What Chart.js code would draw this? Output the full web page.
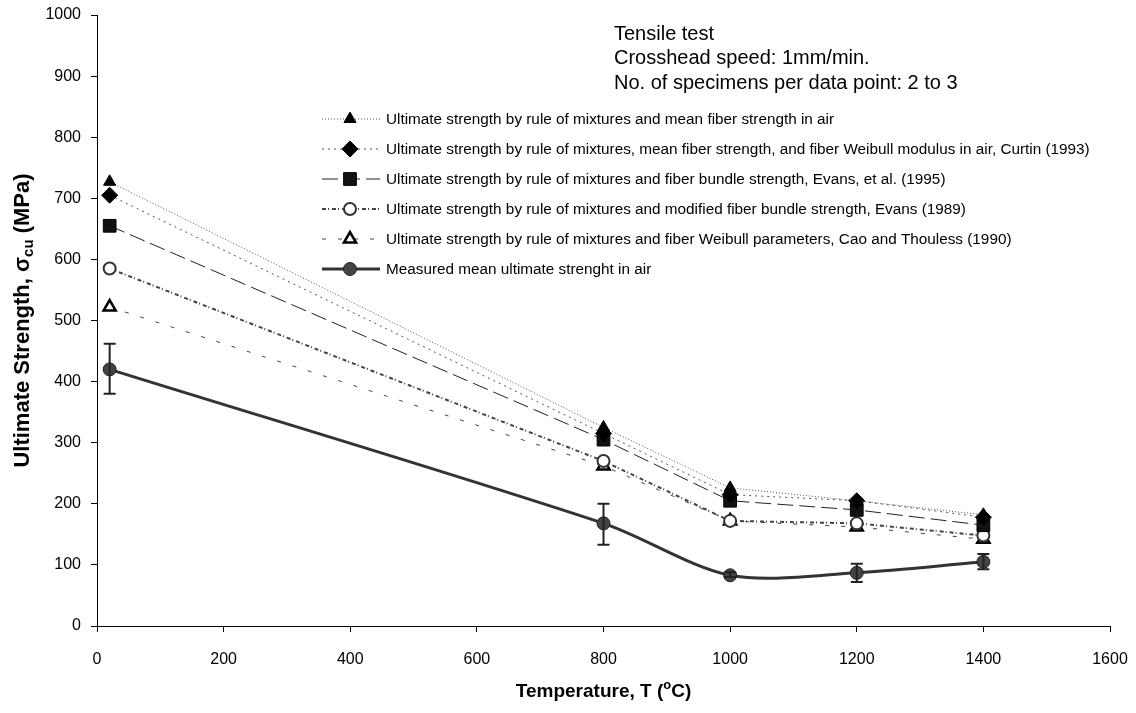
<!DOCTYPE html>
<html>
<head>
<meta charset="utf-8">
<script src="https://cdn.jsdelivr.net/npm/chart.js@4/dist/chart.umd.min.js"></script>
<style>
  html, body { margin: 0; padding: 0; background: #fff; }
  #wrap { width: 1136px; height: 713px; }
</style>
</head>
<body>
<div id="wrap"><canvas id="chart" width="1136" height="713"></canvas></div>
<script>
// temperatures (deg C)
const temps = [20, 800, 1000, 1200, 1400];

// ultimate strength (MPa) per model / measurement
const meanFiber = [727, 325, 226, 205, 182];
const curtin = [705, 315, 215, 205, 178];
const evansBundle = [655, 305, 205, 190, 165];
const evansModified = [585, 270, 172, 168, 148];
const caoThouless = [522, 262, 172, 162, 142];
const measured = [420, 168, 83, 87, 105];

// error bars on measured values
const measuredLow = [380, 133, 80, 72, 93];
const measuredHigh = [462, 200, 88, 102, 118];

const seriesLabels = [
  'Ultimate strength by rule of mixtures and mean fiber strength in air',
  'Ultimate strength by rule of mixtures, mean fiber strength, and fiber Weibull modulus in air, Curtin (1993)',
  'Ultimate strength by rule of mixtures and fiber bundle strength, Evans, et al. (1995)',
  'Ultimate strength by rule of mixtures and modified fiber bundle strength, Evans (1989)',
  'Ultimate strength by rule of mixtures and fiber Weibull parameters, Cao and Thouless (1990)',
  'Measured mean ultimate strenght in air'
];

const noteLines = [
  'Tensile test',
  'Crosshead speed: 1mm/min.',
  'No. of specimens per data point: 2 to 3'
];

const FONT = '"Liberation Sans", Arial, Helvetica, sans-serif';

function pts(values) {
  return temps.map((t, i) => ({ x: t, y: values[i] }));
}

// draws the legend block inside the plot, like the original
const sideLegend = {
  id: 'sideLegend',
  afterDraw(chart) {
    const ctx = chart.ctx;
    chart.data.datasets.forEach((ds, i) => {
      const y = 119 + i * 30;
      ctx.save();
      ctx.strokeStyle = ds.borderColor;
      ctx.lineWidth = ds.borderWidth;
      ctx.setLineDash(ds.borderDash || []);
      ctx.beginPath();
      ctx.moveTo(322, y);
      ctx.lineTo(380, y);
      ctx.stroke();
      ctx.setLineDash([]);
      ctx.fillStyle = ds.pointBackgroundColor;
      ctx.strokeStyle = ds.pointBorderColor;
      ctx.lineWidth = ds.pointBorderWidth;
      Chart.helpers.drawPoint(ctx, {
        pointStyle: ds.pointStyle,
        radius: ds.pointRadius,
        rotation: 0,
        borderWidth: ds.pointBorderWidth
      }, 350, y);
      ctx.fillStyle = '#000';
      ctx.font = '15.3px ' + FONT;
      ctx.textBaseline = 'middle';
      ctx.fillText(ds.label, 386, y + 1);
      ctx.restore();
    });

    // test conditions note
    ctx.save();
    ctx.fillStyle = '#000';
    ctx.font = '20px ' + FONT;
    ctx.textBaseline = 'middle';
    noteLines.forEach((t, i) => ctx.fillText(t, 614, 34 + i * 24.5));
    ctx.restore();
  }
};

// error bars on the measured series
const errorBars = {
  id: 'errorBars',
  afterDatasetsDraw(chart) {
    const ctx = chart.ctx;
    const xs = chart.scales.x, ys = chart.scales.y;
    ctx.save();
    ctx.strokeStyle = '#222';
    ctx.lineWidth = 2;
    temps.forEach((t, i) => {
      const x = xs.getPixelForValue(t);
      const y1 = ys.getPixelForValue(measuredLow[i]);
      const y2 = ys.getPixelForValue(measuredHigh[i]);
      ctx.beginPath();
      ctx.moveTo(x, y1); ctx.lineTo(x, y2);
      ctx.moveTo(x - 6, y1); ctx.lineTo(x + 6, y1);
      ctx.moveTo(x - 6, y2); ctx.lineTo(x + 6, y2);
      ctx.stroke();
    });
    ctx.restore();
  }
};

// axis titles with sub/superscripts
const axisTitles = {
  id: 'axisTitles',
  afterDraw(chart) {
    const ctx = chart.ctx;
    const area = chart.chartArea;
    ctx.save();
    ctx.fillStyle = '#000';
    ctx.textBaseline = 'alphabetic';

    // x title: Temperature, T (°C)
    let big = 'bold 19px ' + FONT, small = 'bold 13px ' + FONT;
    const xa = 'Temperature, T (', xs = 'o', xb = 'C)';
    ctx.font = big; const wa = ctx.measureText(xa).width, wb = ctx.measureText(xb).width;
    ctx.font = small; const wo = ctx.measureText(xs).width;
    const x0 = (area.left + area.right) / 2 - (wa + wo + wb) / 2;
    const yb = 697;
    ctx.font = big; ctx.fillText(xa, x0, yb);
    ctx.font = small; ctx.fillText(xs, x0 + wa, yb - 8);
    ctx.font = big; ctx.fillText(xb, x0 + wa + wo, yb);

    // y title: Ultimate Strength, σcu (MPa)
    big = 'bold 22px ' + FONT; small = 'bold 15px ' + FONT;
    const ya = 'Ultimate Strength, σ', ysub = 'cu', yc = ' (MPa)';
    ctx.font = big; const va = ctx.measureText(ya).width, vc = ctx.measureText(yc).width;
    ctx.font = small; const vs = ctx.measureText(ysub).width;
    ctx.translate(29, (area.top + area.bottom) / 2);
    ctx.rotate(-Math.PI / 2);
    const s0 = -(va + vs + vc) / 2;
    ctx.font = big; ctx.fillText(ya, s0, 0);
    ctx.font = small; ctx.fillText(ysub, s0 + va, 4);
    ctx.font = big; ctx.fillText(yc, s0 + va + vs, 0);
    ctx.restore();
  }
};

const datasets = [
  {
    label: seriesLabels[0], data: pts(meanFiber),
    borderColor: '#555', borderWidth: 1, borderDash: [1, 2],
    pointStyle: 'triangle', pointRadius: 7,
    pointBackgroundColor: '#000', pointBorderColor: '#000', pointBorderWidth: 1
  },
  {
    label: seriesLabels[1], data: pts(curtin),
    borderColor: '#555', borderWidth: 1, borderDash: [2, 4],
    pointStyle: 'rectRot', pointRadius: 8,
    pointBackgroundColor: '#000', pointBorderColor: '#000', pointBorderWidth: 1
  },
  {
    label: seriesLabels[2], data: pts(evansBundle),
    borderColor: '#222', borderWidth: 1, borderDash: [16, 6],
    pointStyle: 'rect', pointRadius: 9,
    pointBackgroundColor: '#111', pointBorderColor: '#000', pointBorderWidth: 1
  },
  {
    label: seriesLabels[3], data: pts(evansModified),
    borderColor: '#444', borderWidth: 2, borderDash: [4, 2, 1, 3],
    pointStyle: 'circle', pointRadius: 6,
    pointBackgroundColor: '#fff', pointBorderColor: '#333', pointBorderWidth: 2
  },
  {
    label: seriesLabels[4], data: pts(caoThouless),
    borderColor: '#444', borderWidth: 1, borderDash: [4, 12],
    pointStyle: 'triangle', pointRadius: 7,
    pointBackgroundColor: '#fff', pointBorderColor: '#000', pointBorderWidth: 2.5
  },
  {
    label: seriesLabels[5], data: pts(measured),
    borderColor: '#333', borderWidth: 3, tension: 0.3,
    pointStyle: 'circle', pointRadius: 6.5,
    pointBackgroundColor: '#444', pointBorderColor: '#222', pointBorderWidth: 1
  }
];

new Chart(document.getElementById('chart'), {
  type: 'line',
  data: { datasets },
  plugins: [errorBars, sideLegend, axisTitles],
  options: {
    responsive: false,
    animation: false,
    layout: { padding: { left: 0, right: 26, top: 15, bottom: 0 } },
    plugins: {
      legend: { display: false },
      tooltip: { enabled: false }
    },
    scales: {
      x: {
        type: 'linear', min: 0, max: 1600,
        afterFit(scale) {
          scale.height = 87;
          scale.paddingRight = 0;
          scale.paddingLeft = 0;
        },
        ticks: {
          stepSize: 200, color: '#000', font: { family: FONT, size: 16 }, padding: 18, maxRotation: 0,
          callback: (v) => String(v)
        },
        grid: { drawOnChartArea: false, color: '#000', tickLength: 6 },
        border: { color: '#000', width: 1 }
      },
      y: {
        min: 0, max: 1000,
        afterFit(scale) {
          scale.width = 97;
          scale.paddingTop = 0;
          scale.paddingBottom = 0;
        },
        ticks: {
          stepSize: 100, color: '#000', font: { family: FONT, size: 16 }, padding: 10,
          callback: (v) => String(v)
        },
        grid: { drawOnChartArea: false, color: '#000', tickLength: 6 },
        border: { color: '#000', width: 1 }
      }
    }
  }
});
</script>
</body>
</html>
